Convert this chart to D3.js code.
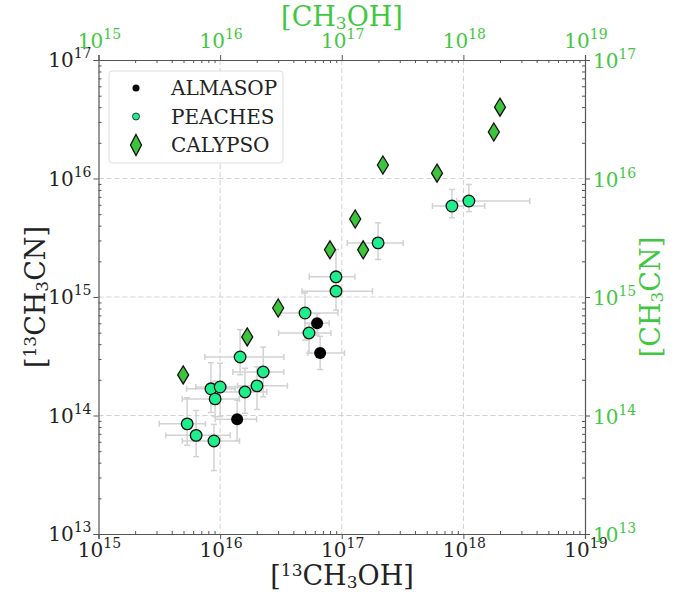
<!DOCTYPE html>
<html>
<head>
<meta charset="utf-8">
<script src="https://cdn.jsdelivr.net/npm/d3@7"></script>
<style>
  body { margin: 0; background: #fff; }
  svg text { font-family: "DejaVu Serif", serif; }
</style>
</head>
<body>
<svg id="chart" width="678" height="595"></svg>
<script>
// Data (column densities, cm^-2)
const almasopX = [1.38e16, 6.27e16, 6.64e16];
const almasopY = [9.3e13, 6.0e14, 3.37e14];
// errors in dex: [lo, hi]
const almasopXErr = [[0.18, 0.16], [0.10, 0.10], [0.10, 0.20]];
const almasopYErr = [[0.18, 0.16], [0.10, 0.08], [0.14, 0.14]];

const peachesX = [5.36e15, 6.35e15, 8.9e15, 8.4e15, 9.1e15, 1.0e16, 1.46e16, 1.60e16, 2.01e16,
                  2.26e16, 4.99e16, 5.38e16, 8.97e16, 8.97e16, 1.99e17, 8.05e17, 1.11e18];
const peachesY = [8.5e13, 6.8e13, 6.1e13, 1.68e14, 1.38e14, 1.74e14, 3.12e14, 1.58e14, 1.78e14,
                  2.33e14, 7.33e14, 4.97e14, 1.48e15, 1.12e15, 2.86e15, 5.86e15, 6.46e15];
const peachesXErr = [[0.23, 0.15], [0.25, 0.28], [0.26, 0.21], [0.20, 0.20], [0.27, 0.20], [0.20, 0.25],
                     [0.29, 0.36], [0.23, 0.18], [0.16, 0.25], [0.25, 0.17], [0.20, 0.27], [0.25, 0.18],
                     [0.22, 0.155], [0.28, 0.30], [0.254, 0.206], [0.16, 0.27], [0.10, 0.50]];
const peachesYErr = [[0.18, 0.22], [0.18, 0.21], [0.25, 0.14], [0.20, 0.22], [0.15, 0.15], [0.25, 0.20],
                     [0.15, 0.23], [0.18, 0.20], [0.20, 0.16], [0.21, 0.21], [0.23, 0.17], [0.17, 0.08],
                     [0.10, 0.23], [0.16, 0.10], [0.14, 0.17], [0.10, 0.14], [0.09, 0.14]];

const calypsoX = [4.97e15, 1.67e16, 3.0e16, 8.0e16, 1.29e17, 1.50e17, 2.18e17, 6.07e17, 1.78e18, 2.0e18];
const calypsoY = [2.2e14, 4.6e14, 8.07e14, 2.5e15, 4.55e15, 2.5e15, 1.3e16, 1.11e16, 2.47e16, 4.0e16];

const xDecades = [15, 16, 17, 18, 19];
const yDecades = [13, 14, 15, 16, 17];
const seriesNames = ["ALMASOP", "PEACHES", "CALYPSO"];

const green = "#3fc83f";
const pL = 98.5, pR = 585, pT = 60, pB = 534;

const svg = d3.select("#chart");

const x  = d3.scaleLog().domain([1e15, 1e19]).range([pL, pR]);
const y  = d3.scaleLog().domain([1e13, 1e17]).range([pB, pT]);
const x2 = d3.scaleLog().domain([1e15, 1e19]).range([pL, pR]);   // CH3OH (top)
const y2 = d3.scaleLog().domain([1e13, 1e17]).range([pB, pT]);   // CH3CN (right)

function minors(lo, hi) {
  const out = [];
  for (let e = lo; e < hi; e++) for (let m = 2; m <= 9; m++) out.push(m * Math.pow(10, e));
  return out;
}

// grid
const grid = svg.append("g").attr("stroke", "#d0d0d0").attr("stroke-dasharray", "5,3").attr("stroke-width", 1);
grid.selectAll(".gx").data(xDecades.slice(1, -1)).enter().append("line")
  .attr("x1", d => x(Math.pow(10, d))).attr("x2", d => x(Math.pow(10, d)))
  .attr("y1", pT).attr("y2", pB);
grid.selectAll(".gy").data(yDecades.slice(1, -1)).enter().append("line")
  .attr("y1", d => y(Math.pow(10, d))).attr("y2", d => y(Math.pow(10, d)))
  .attr("x1", pL).attr("x2", pR);

// axes: major ticks outward, minor ticks inward
function styleAxis(g) {
  g.select(".domain").attr("stroke", "#555").attr("stroke-width", 1.2);
  g.selectAll(".tick line").attr("stroke", "#555");
}
const xMaj = xDecades.map(d => Math.pow(10, d)), yMaj = yDecades.map(d => Math.pow(10, d));
svg.append("g").attr("transform", `translate(0,${pB})`)
  .call(d3.axisBottom(x).tickValues(xMaj).tickSize(5).tickFormat("")).call(styleAxis);
svg.append("g").attr("transform", `translate(0,${pB})`)
  .call(d3.axisBottom(x).tickValues(minors(15, 19)).tickSize(-3).tickFormat("")).call(styleAxis)
  .select(".domain").remove();
svg.append("g").attr("transform", `translate(${pL},0)`)
  .call(d3.axisLeft(y).tickValues(yMaj).tickSize(5).tickFormat("")).call(styleAxis);
svg.append("g").attr("transform", `translate(${pL},0)`)
  .call(d3.axisLeft(y).tickValues(minors(13, 17)).tickSize(-3).tickFormat("")).call(styleAxis)
  .select(".domain").remove();
svg.append("g").attr("transform", `translate(0,${pT})`)
  .call(d3.axisTop(x2).tickValues(xMaj).tickSize(5).tickFormat("")).call(styleAxis);
svg.append("g").attr("transform", `translate(0,${pT})`)
  .call(d3.axisTop(x2).tickValues(minors(15, 19)).tickSize(-3).tickFormat("")).call(styleAxis)
  .select(".domain").remove();
svg.append("g").attr("transform", `translate(${pR},0)`)
  .call(d3.axisRight(y2).tickValues(yMaj).tickSize(5).tickFormat("")).call(styleAxis);
svg.append("g").attr("transform", `translate(${pR},0)`)
  .call(d3.axisRight(y2).tickValues(minors(13, 17)).tickSize(-3).tickFormat("")).call(styleAxis)
  .select(".domain").remove();

// tick labels with superscript exponents
function powLabel(g, px, py, exp, anchor, color) {
  const t = g.append("text").attr("x", px).attr("y", py).attr("text-anchor", anchor)
    .attr("fill", color).attr("font-size", 20);
  t.append("tspan").text("10");
  t.append("tspan").attr("dy", -9).attr("font-size", 14).text(exp);
}
const labels = svg.append("g");
xDecades.forEach(e => powLabel(labels, x(Math.pow(10, e)) + 1, 557, e, "middle", "#222"));
yDecades.forEach(e => powLabel(labels, pL - 7, y(Math.pow(10, e)) + 7, e, "end", "#222"));
xDecades.forEach(e => powLabel(labels, x2(Math.pow(10, e)) + 1, 48, e, "middle", green));
yDecades.forEach(e => powLabel(labels, pR + 8, y2(Math.pow(10, e)) + 8, e, "start", green));

// axis titles
function title(parts, attrs) {
  const t = svg.append("text");
  Object.entries(attrs).forEach(([k, v]) => t.attr(k, v));
  parts.forEach(([s, kind]) => {
    const sp = t.append("tspan").text(s);
    if (kind === "sup") sp.attr("font-size", 17).attr("baseline-shift", "55%");
    if (kind === "sub") sp.attr("font-size", 17).attr("baseline-shift", "-20%");
  });
}
title([["[", ""], ["13", "sup"], ["CH", ""], ["3", "sub"], ["OH]", ""]],
  { x: 342, y: 585, "text-anchor": "middle", "font-size": 27, fill: "#222" });
title([["[", ""], ["13", "sup"], ["CH", ""], ["3", "sub"], ["CN]", ""]],
  { transform: "translate(45,297) rotate(-90)", "text-anchor": "middle", "font-size": 27, fill: "#222" });
title([["[CH", ""], ["3", "sub"], ["OH]", ""]],
  { x: 342, y: 26, "text-anchor": "middle", "font-size": 27, fill: green });
title([["[CH", ""], ["3", "sub"], ["CN]", ""]],
  { transform: "translate(660,297) rotate(-90)", "text-anchor": "middle", "font-size": 27, fill: green });

// error bars
const eb = svg.append("g").attr("stroke", "#d2d2d2").attr("stroke-width", 1.5).attr("fill", "none");
function errorBars(xs, ys, xe, ye) {
  xs.forEach((xv, i) => {
    const cx = x(xv), cy = y(ys[i]);
    const x0 = x(xv / Math.pow(10, xe[i][0])), x1 = x(xv * Math.pow(10, xe[i][1]));
    const y0 = y(ys[i] / Math.pow(10, ye[i][0])), y1 = y(ys[i] * Math.pow(10, ye[i][1]));
    eb.append("line").attr("x1", x0).attr("x2", x1).attr("y1", cy).attr("y2", cy);
    eb.append("line").attr("x1", cx).attr("x2", cx).attr("y1", y0).attr("y2", y1);
    [x0, x1].forEach(v => eb.append("line").attr("x1", v).attr("x2", v).attr("y1", cy - 3).attr("y2", cy + 3));
    [y0, y1].forEach(v => eb.append("line").attr("y1", v).attr("y2", v).attr("x1", cx - 3).attr("x2", cx + 3));
  });
}
errorBars(almasopX, almasopY, almasopXErr, almasopYErr);
errorBars(peachesX, peachesY, peachesXErr, peachesYErr);

// markers
const diamond = "M0,-9L5.5,0L0,9L-5.5,0Z";
svg.append("g").selectAll("path").data(calypsoX).enter().append("path")
  .attr("d", diamond)
  .attr("transform", (d, i) => `translate(${x(d)},${y(calypsoY[i])})`)
  .attr("fill", "#3cc43c").attr("stroke", "#111").attr("stroke-width", 1.3);
svg.append("g").selectAll("circle").data(peachesX).enter().append("circle")
  .attr("cx", d => x(d)).attr("cy", (d, i) => y(peachesY[i])).attr("r", 5.8)
  .attr("fill", "#1eee8c").attr("stroke", "#111").attr("stroke-width", 1.3);
svg.append("g").selectAll("circle").data(almasopX).enter().append("circle")
  .attr("cx", d => x(d)).attr("cy", (d, i) => y(almasopY[i])).attr("r", 6)
  .attr("fill", "#000");

// legend
const lg = svg.append("g").attr("transform", "translate(109,71)");
lg.append("rect").attr("width", 174).attr("height", 92).attr("rx", 3)
  .attr("fill", "#fff").attr("fill-opacity", 0.85).attr("stroke", "#ddd");
seriesNames.forEach((name, i) => {
  const yy = 17 + i * 28.5;
  if (i === 0) lg.append("circle").attr("cx", 27).attr("cy", yy).attr("r", 3.5).attr("fill", "#000");
  if (i === 1) lg.append("circle").attr("cx", 27).attr("cy", yy).attr("r", 3.5)
    .attr("fill", "#1eee8c").attr("stroke", "#111").attr("stroke-width", 0.8);
  if (i === 2) lg.append("path").attr("d", "M0,-10.5L5.5,0L0,10.5L-5.5,0Z").attr("transform", `translate(27,${yy})`)
    .attr("fill", "#3cc43c").attr("stroke", "#111").attr("stroke-width", 1.3);
  lg.append("text").attr("x", 62).attr("y", yy + 7).attr("font-size", 20).attr("fill", "#222").text(name);
});
</script>
</body>
</html>
